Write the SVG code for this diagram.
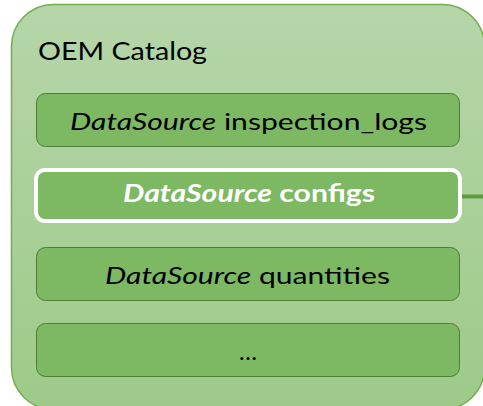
<svg xmlns="http://www.w3.org/2000/svg" width="483" height="406" viewBox="0 0 483 406">
  <defs>
    <linearGradient id="catalogFill" x1="0" y1="0" x2="0" y2="1">
      <stop offset="0" stop-color="#b6d6a9"/>
      <stop offset="1" stop-color="#9dca89"/>
    </linearGradient>
    <style>
      .catalog { fill: url(#catalogFill); stroke: #72ad4c; stroke-width: 1.5; }
      .ds { fill: #7db862; stroke: #4f7d32; stroke-width: 1; }
      .ds-sel { fill: #7db862; stroke: #ffffff; stroke-width: 4; }
      .lbl { font-family: Lato, "Liberation Sans", sans-serif; font-size: 24px; fill: #000000; }
      .lbl-sel { font-family: Lato, "Liberation Sans", sans-serif; font-size: 24px; font-weight: bold; fill: #ffffff; }
      .title { font-family: Lato, "Liberation Sans", sans-serif; font-size: 25.5px; fill: #000000; }
      .it { font-style: italic; }
      .link { stroke: #5e9b3c; stroke-width: 4; fill: none; }
    </style>
  </defs>

  <!-- outer catalog container -->
  <g id="oem-catalog">
    <rect class="catalog" x="11.5" y="4.5" width="473" height="405" rx="42"/>
    <text class="title" x="38" y="59.5" textLength="169" lengthAdjust="spacingAndGlyphs">OEM Catalog</text>
  </g>

  <!-- connectors -->
  <g id="connectors">
    <line class="link" x1="462" y1="196.5" x2="483" y2="196.5"/>
  </g>

  <g id="ds-inspection-logs">
    <rect class="ds" x="36.5" y="93.5" width="423" height="53" rx="9"/>
    <text class="lbl" x="70" y="130" textLength="357" lengthAdjust="spacingAndGlyphs"><tspan class="it">DataSource</tspan> inspection_logs</text>
  </g>

  <g id="ds-configs">
    <rect class="ds-sel" x="36" y="170" width="424" height="51" rx="9"/>
    <text class="lbl-sel" x="123" y="201.5" textLength="252" lengthAdjust="spacingAndGlyphs"><tspan class="it">DataSource</tspan> configs</text>
  </g>

  <g id="ds-quantities">
    <rect class="ds" x="36.5" y="247.5" width="423" height="53" rx="9"/>
    <text class="lbl" x="105" y="284" textLength="285" lengthAdjust="spacingAndGlyphs"><tspan class="it">DataSource</tspan> quantities</text>
  </g>

  <g id="ds-more">
    <rect class="ds" x="36.5" y="323.5" width="423" height="53" rx="9"/>
    <text class="lbl" x="248" y="360" text-anchor="middle" font-size="26">…</text>
  </g>
</svg>
